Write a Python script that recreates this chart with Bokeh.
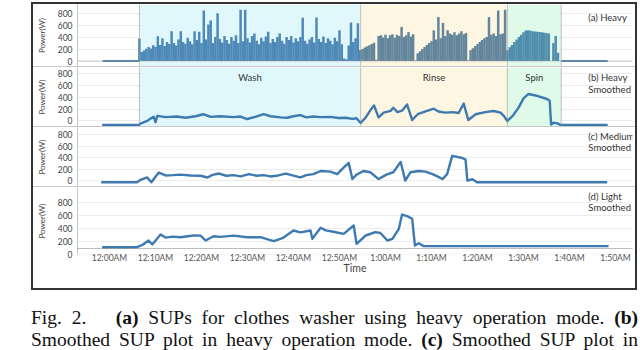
import numpy as np
from bokeh.plotting import figure
from bokeh.layouts import column
from bokeh.models import Range1d, FixedTicker, BoxAnnotation, Span, Label, Div
from bokeh.embed import file_html
from bokeh.resources import INLINE

# ---------------- data ----------------
tick_minutes = [0, 10, 20, 30, 40, 50, 60, 70, 80, 90, 100, 110]
tick_labels = ["12:00AM", "12:10AM", "12:20AM", "12:30AM", "12:40AM", "12:50AM",
               "1:00AM", "1:10AM", "1:20AM", "1:30AM", "1:40AM", "1:50AM"]
power_ticks = [0, 200, 400, 600, 800]

phase_names = ["Wash", "Rinse", "Spin"]
phase_start = [6.5, 54.6, 86.5]
phase_end = [54.6, 86.5, 98.2]

panel_titles = [["(a) Heavy"], ["(b) Heavy", "Smoothed"], ["(c) Medium", "Smoothed"], ["(d) Light", "Smoothed"]]

# (a) heavy raw SUP, one sample every 0.5 min from 6.5 min
heavy_raw_t0 = 6.5
heavy_raw_step = 0.5
heavy_raw_w = [
    376, 150, 175, 205, 235, 210, 265, 240, 414, 270,
    380, 250, 320, 285, 500, 300, 260, 360, 500, 320,
    290, 390, 330, 280, 500, 350, 490, 300, 845, 360,
    612, 680, 300, 400, 800, 370, 310, 420, 350, 290,
    400, 340, 430, 300, 860, 330, 860, 380, 310, 420,
    460, 340, 280, 390, 330, 410, 490, 300, 370, 320,
    400, 460, 340, 290, 400, 350, 420, 310, 380, 330,
    400, 725, 340, 290, 360, 400, 310, 730, 370, 320,
    410, 300, 380, 340, 280, 390, 330, 513, 280, 40,
    30, 260, 645, 320, 380, 630,
    180, 200, 225, 245, 265, 285, 305, 20,
    420, 430, 395, 440, 380, 430, 450, 390, 440, 420, 568, 400, 430, 485, 410, 450, 10,
    130, 165, 200, 235, 270, 300, 330, 513, 360, 735, 380, 635, 420, 513,
    460, 440, 480, 430, 460, 500, 450, 470, 10,
    180, 215, 250, 285, 320, 350, 380, 400,
    735, 440, 460, 420, 845, 450, 460, 860,
    180, 230, 270, 320, 360, 400, 440, 480, 510, 513, 505, 500,
    495, 490, 485, 480, 475, 470, 460, 0, 300, 420, 140, 0,
]
heavy_idle_t = [[-1.5, 6.5], [98.2, 108.3]]
heavy_idle_w = [[0, 0], [0, 0]]

# (b) heavy smoothed
heavy_s_t = [-1.6, 6.5, 6.7, 8.2, 8.9, 9.6, 10.0, 10.4, 12.2, 14.6, 16.5, 18.7, 20.4, 22.0,
             24.1, 27.0, 28.5, 29.9, 31.7, 33.5, 35.0, 37.2, 38.6, 40.0, 41.5, 42.8, 44.3,
             45.9, 48.0, 49.8, 51.3, 52.8, 53.7, 54.6, 55.7, 56.7, 57.5, 58.5, 59.6, 61.1,
             61.7, 62.6, 63.7, 64.7, 65.8, 67.0, 68.7, 70.5, 71.5, 73.0, 74.6, 75.9, 77.0,
             78.0, 79.6, 81.7, 83.5, 85.0, 85.7, 86.5, 87.6, 88.9, 90.0, 91.1, 92.6, 95.1,
             95.7, 96.0, 96.5, 97.4, 98.0, 108.3]
heavy_s_w = [-66, -66, -45, 0, 40, 70, -20, 87, 65, 75, 55, 80, 114, 70,
             80, 65, 75, 33, 70, 114, 80, 60, 55, 80, 98, 60, 75,
             65, 70, 50, 55, 35, 45, -33, 60, 180, 261, 60, 140, 170,
             223, 150, 180, 277, 16, 114, 160, 207, 160, 140, 150, 135, 293,
             16, 114, 150, 168, 140, 87, 0, 80, 220, 380, 455, 430, 370,
             340, -60, -30, -40, -66, -66]

# (c) medium smoothed
medium_t = [-1.8, 6.0, 6.7, 8.2, 9.1, 10.7, 12.2, 13.7, 15.4, 17.6, 19.8, 21.3, 22.4, 23.8,
            25.4, 27.0, 28.5, 30.3, 32.0, 33.5, 35.0, 36.7, 38.3, 39.8, 41.5, 42.8, 44.3,
            45.9, 48.0, 49.5, 50.9, 52.0, 52.8, 53.7, 55.2, 56.7, 58.5, 60.2, 61.7, 63.3,
            64.3, 65.4, 67.2, 68.7, 70.2, 71.3, 72.4, 73.4, 74.5, 76.7, 77.4, 77.8, 78.9,
            79.9, 108.2]
medium_w = [-22, -22, 17, 61, -22, 145, 95, 100, 110, 95, 90, 60, 105, 128,
            90, 100, 80, 117, 90, 100, 78, 95, 128, 95, 61, 100, 117,
            172, 160, 117, 230, 312, 33, 110, 172, 150, 33, 110, 150, 328,
            6, 150, 172, 160, 117, 80, 33, 117, 433, 395, 367, 6, 30,
            -22, -22]

# (d) light smoothed
light_t = [-1.6, 6.0, 7.2, 8.5, 9.3, 11.1, 12.2, 13.7, 15.4, 18.3, 19.8, 20.9, 22.6, 24.1,
           27.0, 29.9, 32.8, 35.7, 37.6, 40.0, 41.5, 43.7, 44.1, 45.9, 47.0, 48.7, 50.9,
           53.1, 53.7, 55.7, 57.8, 58.9, 60.4, 61.5, 62.9, 63.6, 64.7, 65.8, 66.4, 67.2,
           68.3, 108.5]
light_w = [112, 112, 150, 215, 154, 308, 260, 275, 266, 292, 290, 215, 280, 270,
           290, 266, 266, 205, 250, 369, 340, 369, 241, 411, 370, 350, 318,
           446, 164, 292, 343, 330, 215, 240, 395, 615, 590, 549, 138, 174,
           128, 128]
light_axis_level = 92

caption_lines = [
    'Fig. 2.&nbsp;&nbsp; <b>(a)</b> SUPs for clothes washer using heavy operation mode. <b>(b)</b>',
    'Smoothed SUP plot in heavy operation mode. <b>(c)</b> Smoothed SUP plot in',
]

# ---------------- styles ----------------
FONT = "Lato"
LINE_C = "#3e7ab0"
phase_fill = ["#e0f8fc", "#fdf6e2", "#e0faea"]
phase_bar = ["#4683b3", "#5b7f98", "#4888a9"]

x_range = Range1d(-6.957, 113.696)
FIG_W = 602


def make_panel(h, y0, y1, bottom=False):
    p = figure(width=FIG_W, height=h, x_range=x_range, y_range=Range1d(y0, y1),
               output_backend="svg", toolbar_location=None,
               x_axis_location=("below" if bottom else None),
               min_border_left=44, min_border_right=3, min_border_top=0,
               min_border_bottom=(34 if bottom else 0))
    p.outline_line_color = None
    p.border_fill_color = "white"
    p.xgrid.visible = False
    p.yaxis.ticker = FixedTicker(ticks=power_ticks)
    p.ygrid.grid_line_color = "#ececec"
    ax = p.yaxis[0]
    ax.axis_line_color = "#c4c4c4"
    ax.major_tick_line_color = None
    ax.minor_tick_line_color = None
    ax.major_tick_out = 0
    ax.major_tick_in = 0
    ax.major_label_standoff = 5
    ax.major_label_text_font = FONT
    ax.major_label_text_font_size = "8.5px"
    ax.major_label_text_color = "#444444"
    ax.axis_label = "Power(W)"
    ax.axis_label_text_font = FONT
    ax.axis_label_text_font_style = "normal"
    ax.axis_label_text_font_size = "8px"
    ax.axis_label_text_color = "#444444"
    ax.axis_label_standoff = 8
    return p


def add_phases(p, with_names=False, name_y=None):
    for s, e, c in zip(phase_start, phase_end, phase_fill):
        p.add_layout(BoxAnnotation(left=s, right=e, fill_color=c, fill_alpha=1,
                                   line_color=None, level="underlay"))
    for loc in phase_start + [phase_end[-1]]:
        p.add_layout(Span(location=loc, dimension="height", line_color="#8a8a8a",
                          line_width=1, line_dash="1 1"))
    if with_names:
        for nm, s, e in zip(phase_names, phase_start, phase_end):
            p.add_layout(Label(x=(s + e) / 2, y=name_y, text=nm, text_align="center",
                               text_baseline="middle", text_font=FONT,
                               text_font_size="9.5px", text_color="#333333"))


def add_title(p, lines, ys):
    for t, y in zip(lines, ys):
        p.add_layout(Label(x=104.1, y=y, text=t, text_align="left", text_baseline="middle",
                           text_font=FONT, text_font_size="9.5px", text_color="#333333"))


# panel a
pa = make_panel(62, -92, 946)
add_phases(pa)
pa.add_layout(Span(location=0, dimension="width", line_color="#999999", line_dash="1 1"))
raw_t = heavy_raw_t0 + heavy_raw_step * np.arange(len(heavy_raw_w))
raw_phase = np.clip(np.searchsorted(np.array(phase_end), raw_t, side="right"), 0, 2)
raw_col = [phase_bar[k] for k in raw_phase]
pa.vbar(x=raw_t, top=heavy_raw_w, bottom=0, width=heavy_raw_step * 1.08,
        fill_color=raw_col, line_color=None, fill_alpha=0.95)
pa.multi_line(xs=heavy_idle_t, ys=heavy_idle_w, line_color="#4a80b0", line_width=2)
add_title(pa, panel_titles[0], [728])

# panel b
pb = make_panel(59, -93, 901)
add_phases(pb, with_names=True, name_y=732)
pb.line(heavy_s_t, heavy_s_w, line_color=LINE_C, line_width=2.4, line_join="round")
add_title(pb, panel_titles[1], [732, 530])

# panel c
pc = make_panel(59, -95, 920)
pc.line(medium_t, medium_w, line_color=LINE_C, line_width=2.4, line_join="round")
add_title(pc, panel_titles[2], [766, 577])

# panel d
pd_ = make_panel(101, -0.5, 1031, bottom=True)
pd_.add_layout(Span(location=light_axis_level, dimension="width", line_color="#777777",
                    line_dash="1 1"))
pd_.line(light_t, light_w, line_color=LINE_C, line_width=2.4, line_join="round")
add_title(pd_, panel_titles[3], [892, 723])
xa = pd_.xaxis[0]
xa.ticker = FixedTicker(ticks=tick_minutes)
xa.major_label_overrides = {m: l for m, l in zip(tick_minutes, tick_labels)}
xa.axis_line_color = None
xa.major_tick_line_color = None
xa.minor_tick_line_color = None
xa.major_tick_out = 0
xa.major_tick_in = 0
xa.major_label_standoff = -2
xa.major_label_text_font = FONT
xa.major_label_text_font_size = "8.5px"
xa.major_label_text_color = "#555555"
xa.axis_label = "Time"
xa.axis_label_text_font = FONT
xa.axis_label_text_font_style = "normal"
xa.axis_label_text_font_size = "10.5px"
xa.axis_label_text_color = "#444444"
xa.axis_label_standoff = -4


def sep():
    return Div(text="", width=FIG_W, height=1, margin=0,
               styles={"background-color": "#c8c8c8"})


chart = column(pa, sep(), pb, sep(), pc, sep(), pd_, spacing=0,
               margin=(2, 0, 0, 31), styles={"border": "2px solid #333333"})

cap_html = "".join(
    '<div style="display:block;width:607px;font-family:\'Liberation Serif\',\'Times New Roman\',serif;'
    'font-size:19.5px;line-height:21.5px;color:#111;text-align:justify;text-align-last:justify;'
    'white-space:normal;">' + ln + '</div>' for ln in caption_lines)
caption = Div(text=cap_html, width=607, height=43, margin=(17, 0, 0, 31),
              styles={"overflow": "hidden"})

layout = column(chart, caption, spacing=0)

open("out.html", "w").write(file_html(layout, INLINE))
